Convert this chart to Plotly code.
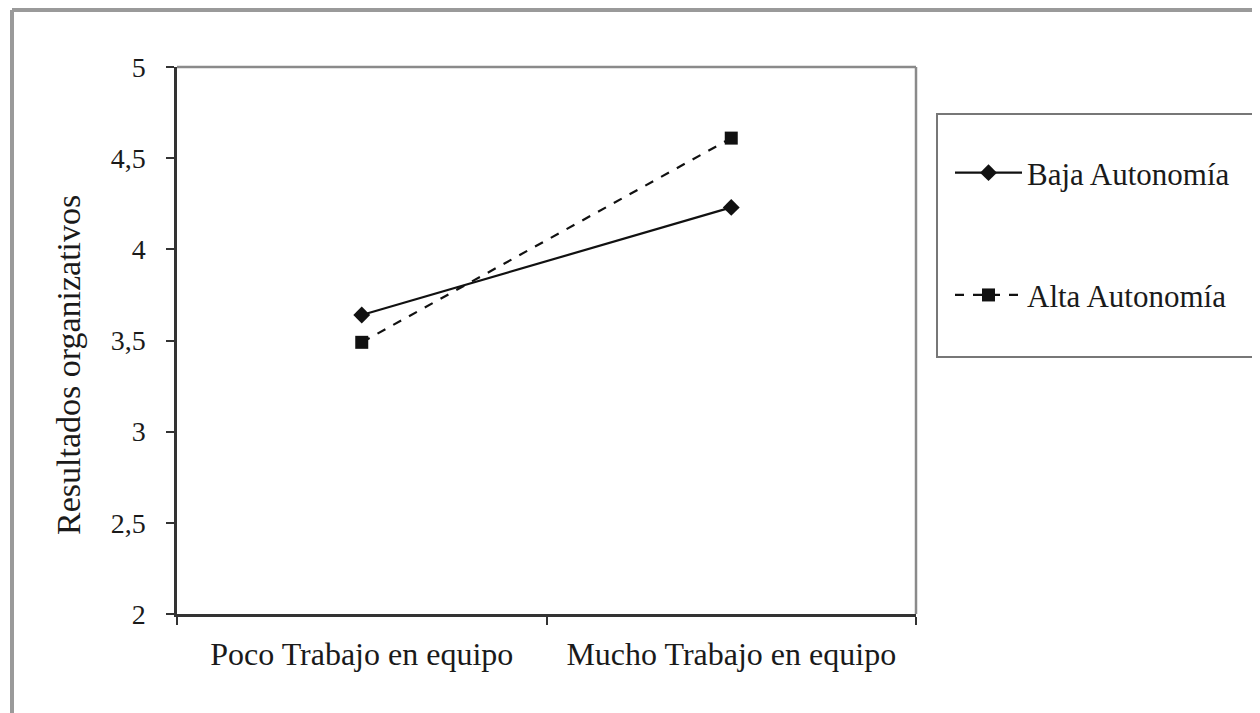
import plotly.graph_objects as go

categories = ["Poco Trabajo en equipo", "Mucho Trabajo en equipo"]
baja = [3.64, 4.23]
alta = [3.49, 4.61]
series_names = ["Baja Autonomía", "Alta Autonomía"]
y_title = "Resultados organizativos"

# page body has an 8px margin; work in screen coordinates and convert
OFF = 8
W, H = 1252, 705
SL, SR, ST, SB = 177, 916, 67, 614          # plot area in screen px
L, T = SL - OFF, ST - OFF
R = W - (SR - OFF)
B = H - (SB - OFF)
pw, ph = W - L - R, H - T - B

def px(xs):
    return (xs - OFF - L) / pw

def py(ys):
    return (H - B - (ys - OFF)) / ph

FONT = "Liberation Serif"
INK = "#1a1a1a"

fig = go.Figure()
fig.add_trace(go.Scatter(
    x=categories, y=baja, name=series_names[0], mode="lines+markers",
    line=dict(color="#111111", width=2.2),
    marker=dict(symbol="diamond", size=13, color="#111111"),
    legendgroup="a",
))
fig.add_trace(go.Scatter(
    x=categories, y=alta, name=series_names[1], mode="lines+markers",
    line=dict(color="#111111", width=2.2, dash="dash"),
    marker=dict(symbol="square", size=13, color="#111111"),
    legendgroup="b",
))

shapes = [
    dict(type="line", xref="paper", yref="paper", x0=0, x1=1, y0=1, y1=1,
         line=dict(color="#8a8a8a", width=2.5)),
    dict(type="line", xref="paper", yref="paper", x0=1, x1=1, y0=0, y1=1,
         line=dict(color="#8a8a8a", width=2.5)),
    dict(type="line", xref="paper", yref="paper", x0=px(12), x1=px(12), y0=py(10), y1=py(730),
         line=dict(color="#9a9a9a", width=4)),
    dict(type="line", xref="paper", yref="paper", x0=px(12), x1=px(1280), y0=py(10), y1=py(10),
         line=dict(color="#9a9a9a", width=4)),
    dict(type="rect", xref="paper", yref="paper", x0=px(937), x1=px(1256), y0=py(357), y1=py(114),
         line=dict(color="#777777", width=2)),
]

annotations = [
    dict(text=y_title, xref="paper", yref="paper", x=px(68), y=py(365),
         xanchor="center", yanchor="middle", textangle=-90, showarrow=False,
         font=dict(family=FONT, size=34, color=INK)),
]

fig.update_layout(
    width=W, height=H,
    margin=dict(l=L, r=R, t=T, b=B, pad=0),
    paper_bgcolor="white", plot_bgcolor="white",
    separators=",.",
    font=dict(family=FONT, size=28, color=INK),
    showlegend=True,
    legend=dict(
        x=px(950), y=py(146), xanchor="left", yanchor="top",
        font=dict(family=FONT, size=31, color=INK),
        itemwidth=67, tracegroupgap=79, traceorder="grouped",
        bgcolor="rgba(0,0,0,0)", borderwidth=0,
    ),
    xaxis=dict(
        type="category", range=[-0.5, 1.5], tickson="boundaries",
        ticks="outside", ticklen=8, tickwidth=2, tickcolor="#333333",
        showline=True, linecolor="#333333", linewidth=2.5,
        showgrid=False, zeroline=False, ticklabelstandoff=10,
        tickfont=dict(family=FONT, size=32, color=INK),
    ),
    yaxis=dict(
        range=[2, 5], dtick=0.5, tick0=2,
        ticks="outside", ticklen=8, tickwidth=2, tickcolor="#333333",
        showline=True, linecolor="#333333", linewidth=2.5,
        showgrid=False, zeroline=False, ticklabelstandoff=15,
        tickfont=dict(family=FONT, size=28, color=INK),
    ),
    shapes=shapes,
    annotations=annotations,
)

fig.write_html("out.html")
